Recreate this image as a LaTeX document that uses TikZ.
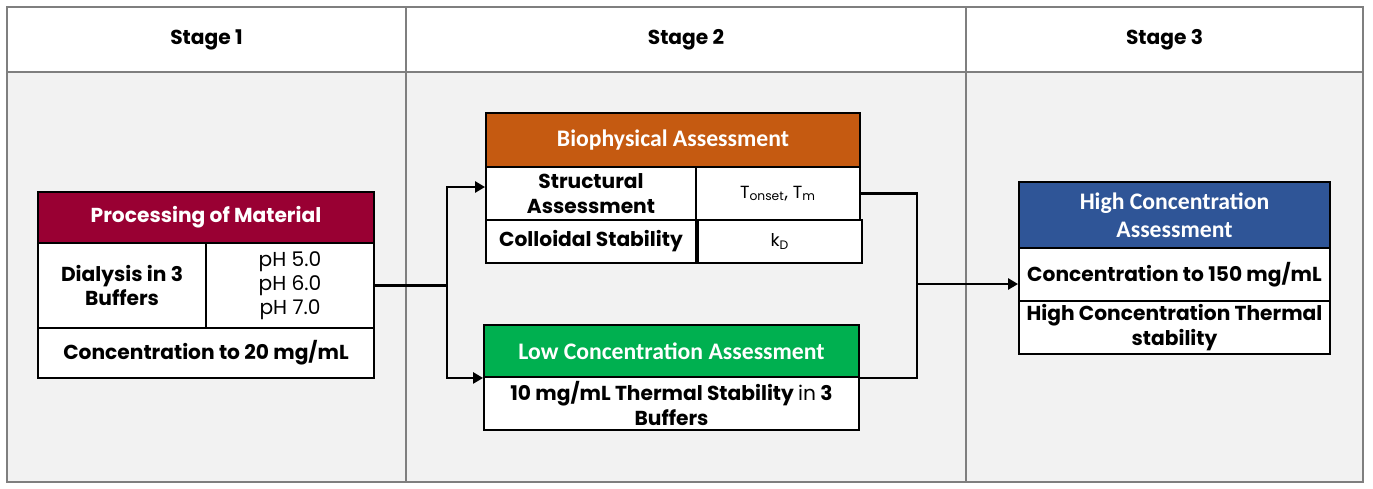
\documentclass[tikz,border=0pt]{standalone}
\usepackage{fontspec}
\setmainfont{Poppins}
\newfontfamily\headfont{Carlito}
\usetikzlibrary{arrows.meta}
\definecolor{wine}{HTML}{990033}
\definecolor{rust}{HTML}{C55A11}
\definecolor{leaf}{HTML}{00B050}
\definecolor{navy}{HTML}{2F5597}
\definecolor{frame}{HTML}{7F7F7F}
\definecolor{panel}{HTML}{F2F2F2}
\begin{document}
\begin{tikzpicture}[x=0.02cm,y=-0.02cm,
  every node/.style={inner sep=1pt,align=center,font=\fontsize{11.5}{14}\selectfont\bfseries},
  stagehead/.style={draw=frame,line width=1.2pt,fill=white,minimum height=1.3cm},
  stagebody/.style={draw=frame,line width=1.2pt,fill=panel,minimum height=8.2cm},
  cell/.style={draw,line width=1.1pt,fill=white},
  plain/.style={font=\fontsize{11.5}{13.6}\selectfont},
  head/.style={cell,text=white,font=\headfont\fontsize{13.5}{16}\selectfont\bfseries},
  link/.style={line width=1.4pt},
  arr/.style={link,-{Triangle[length=2mm,width=2.2mm]}}]
\useasboundingbox (0,0) rectangle (1373,488);
% stage columns
\foreach \i/\x/\w in {1/206.5/7.98,2/686/11.2,3/1164.5/7.94}{
  \node[stagebody,minimum width=\w cm] (b\i) at (\x,277) {};
  \node[stagehead,minimum width=\w cm] (h\i) at (\x,39.5) {Stage \i};
}
% stage 1
\node[cell,fill=wine,text=white,minimum width=6.72cm,minimum height=1.02cm] (proc) at (206,217.5) {Processing of Material};
\node[cell,minimum width=3.36cm,minimum height=1.7cm] (dia) at (122,285.5) {Dialysis in 3\\Buffers};
\node[cell,plain,minimum width=3.36cm,minimum height=1.7cm] (ph) at (290,285.5) {pH 5.0\\pH 6.0\\pH 7.0};
\node[cell,minimum width=6.72cm,minimum height=1cm] (c20) at (206,353) {Concentration to 20 mg/mL};
% stage 2
\node[head,fill=rust,minimum width=7.48cm,minimum height=1.08cm] (bio) at (673,140) {Biophysical Assessment};
\node[cell,minimum width=4.2cm,minimum height=1.06cm] (sa) at (591,193.5) {Structural\\Assessment};
\node[cell,plain,font=\fontsize{10}{12}\selectfont,minimum width=3.28cm,minimum height=1.06cm] (tm) at (778,193.5) {T\textsubscript{onset}, T\textsubscript{m}};
\node[cell,minimum width=4.2cm,minimum height=0.86cm] (cs) at (591,241.5) {Colloidal Stability};
\node[cell,plain,font=\fontsize{10}{12}\selectfont,minimum width=3.28cm,minimum height=0.86cm] (kd) at (780,241.5) {k\textsubscript{D}};
\node[head,fill=leaf,minimum width=7.5cm,minimum height=1.04cm] (low) at (671.5,351) {Low Concentration Assessment};
\node[cell,minimum width=7.5cm,minimum height=1.06cm] (ts) at (671.5,403.5) {10 mg/mL Thermal Stability {\mdseries in} 3\\Buffers};
% stage 3
\node[head,fill=navy,minimum width=6.22cm,minimum height=1.32cm] (hc) at (1174.5,215) {High Concentration\\Assessment};
\node[cell,minimum width=6.22cm,minimum height=1.06cm] (c150) at (1174.5,274.5) {Concentration to 150 mg/mL};
\node[cell,minimum width=6.22cm,minimum height=1.06cm] (hts) at (1174.5,327.5) {High Concentration Thermal\\stability};
% connectors
\coordinate (fork) at (447,285.5);
\coordinate (join) at (917,284);
\draw[link] (ph.east) -- (fork);
\draw[arr] (fork) |- ([yshift=0.13cm]sa.west);
\draw[arr] (fork) |- (low.south west);
\draw[link] (tm.east) -| (join);
\draw[link] (low.south east) -| (join);
\draw[arr] (join) -- (join -| c150.west);
\end{tikzpicture}
\end{document}
